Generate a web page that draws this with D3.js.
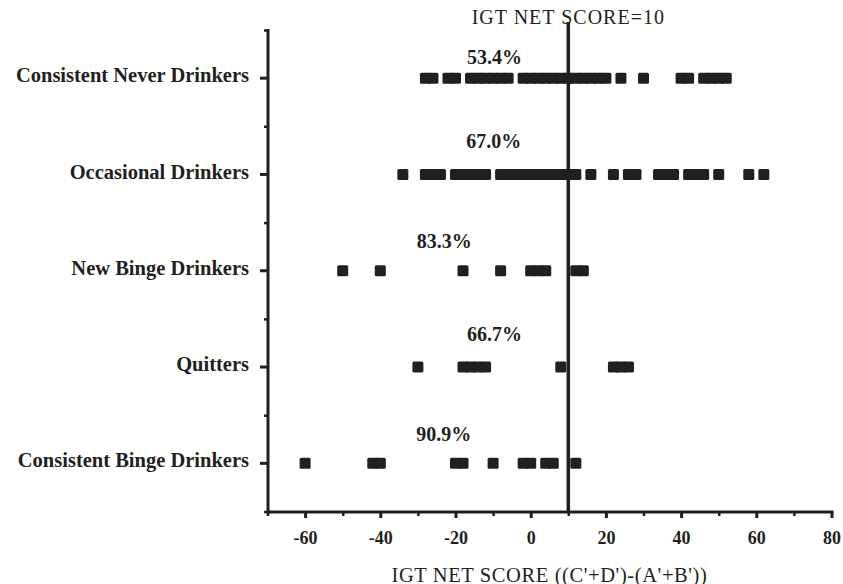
<!DOCTYPE html>
<html>
<head>
<meta charset="utf-8">
<script src="https://cdn.jsdelivr.net/npm/d3@7"></script>
<style>
  body { margin: 0; background: #fff; }
  svg text { font-family: "Liberation Serif", "Times New Roman", serif; fill: #231f20; }
</style>
</head>
<body>
<div class="canvas"></div>
<script>
// groups, top to bottom
let groups = ['Consistent Never Drinkers', 'Occasional Drinkers', 'New Binge Drinkers', 'Quitters', 'Consistent Binge Drinkers'];

// individual IGT net scores
let neverScores = [-28, -26, -22, -20, -16, -14, -12, -10, -8, -6, -2, 0, 2, 4, 6, 8, 10, 12, 14, 16, 18, 20, 24, 30, 40, 42, 46, 48, 50, 52];
let occasionalScores = [-34, -28, -26, -24, -20, -18, -16, -14, -12, -8, -6, -4, -2, 0, 2, 4, 6, 8, 10, 12, 16, 22, 26, 28, 34, 36, 38, 42, 44, 46, 50, 58, 62];
let newBingeScores = [-50, -40, -18, -8, 0, 2, 4, 12, 14];
let quitterScores = [-30, -18, -16, -14, -12, 8, 22, 24, 26];
let consistentBingeScores = [-60, -42, -40, -20, -18, -10, -2, 0, 4, 6, 12];

let percentLabels = ['53.4%', '67.0%', '83.3%', '66.7%', '90.9%'];
let cutoff = 10;

let majorTicks = [-60, -40, -20, 0, 20, 40, 60, 80];
let minorTicks = [-70, -50, -30, -10, 10, 30, 50, 70];

// layout
let width = 843, height = 584;
let ink = '#231f20';
let markSize = 11;
let pctX = [-9.6, -9.8, -23, -9.6, -23.1];   // where each % label is centred (score units)
let pctDy = [-14, -26.5, -23, -26.5, -22];   // baseline offset from the row

let svg = d3.select('.canvas')
  .append('svg')
  .attr('width', width)
  .attr('height', height)
  .style('background', '#fff');

let xScale = d3.scaleLinear()
  .domain([-70, 80])
  .range([267.5, 831.5]);

let yScale = d3.scaleBand()
  .domain(groups)
  .range([30, 511.5])
  .padding(0);

let rowY = g => yScale(g) + yScale.bandwidth() / 2;

let allScores = [neverScores, occasionalScores, newBingeScores, quitterScores, consistentBingeScores];

// marks: one square per subject, overlapping squares form the bars
allScores.forEach((scores, i) => {
  svg.append('g')
    .attr('class', 'row')
    .selectAll('rect')
    .data(scores)
    .enter()
    .append('rect')
    .attr('x', d => xScale(d) - markSize / 2)
    .attr('y', rowY(groups[i]) - markSize / 2)
    .attr('width', markSize)
    .attr('height', markSize)
    .attr('rx', 1.5)
    .attr('fill', ink);
});

// percentage labels
svg.append('g')
  .selectAll('text')
  .data(percentLabels)
  .enter()
  .append('text')
  .attr('x', (d, i) => xScale(pctX[i]))
  .attr('y', (d, i) => rowY(groups[i]) + pctDy[i])
  .attr('text-anchor', 'middle')
  .style('font-size', '20px')
  .style('font-weight', 'bold')
  .text(d => d);

// cutoff line at net score 10
svg.append('line')
  .attr('x1', xScale(cutoff))
  .attr('x2', xScale(cutoff))
  .attr('y1', 22)
  .attr('y2', yScale.range()[1])
  .attr('stroke', ink)
  .attr('stroke-width', 3.5);

svg.append('text')
  .attr('x', xScale(cutoff))
  .attr('y', 24)
  .attr('text-anchor', 'middle')
  .style('font-size', '20px')
  .style('letter-spacing', '1px')
  .text('IGT NET SCORE=' + cutoff);

// x axis
let xAxisY = yScale.range()[1];

svg.append('g')
  .attr('class', 'x-minor')
  .attr('transform', `translate(0, ${xAxisY})`)
  .call(d3.axisBottom(xScale).tickValues(minorTicks).tickSize(4.5).tickFormat(''))
  .call(g => g.select('.domain').remove())
  .call(g => g.selectAll('line').attr('stroke', ink).attr('stroke-width', 2.5));

let xAxis = svg.append('g')
  .attr('class', 'x-axis')
  .attr('transform', `translate(0, ${xAxisY})`)
  .call(d3.axisBottom(xScale).tickValues(majorTicks).tickFormat(d => String(d))
    .tickSize(6.5).tickSizeOuter(0).tickPadding(13));

xAxis.select('.domain')
  .attr('stroke', ink)
  .attr('stroke-width', 3)
  .attr('stroke-linecap', 'square');
xAxis.selectAll('line').attr('stroke', ink).attr('stroke-width', 3);
xAxis.selectAll('text')
  .style('font-family', '"Liberation Serif", serif')
  .style('font-size', '18px')
  .style('font-weight', 'bold')
  .attr('fill', ink);

svg.append('text')
  .attr('x', (xScale.range()[0] + xScale.range()[1]) / 2)
  .attr('y', 581.5)
  .attr('text-anchor', 'middle')
  .style('font-size', '20.5px')
  .style('letter-spacing', '0.6px')
  .text("IGT NET SCORE ((C'+D')-(A'+B'))");

// y axis
let boundaries = groups.map(g => yScale(g)).concat([yScale.range()[1]]);

svg.append('g')
  .attr('class', 'y-minor')
  .attr('transform', `translate(${xScale.range()[0]}, 0)`)
  .call(d3.axisLeft(d3.scaleIdentity().domain(yScale.range())).tickValues(boundaries).tickSize(3.5).tickFormat(''))
  .call(g => g.select('.domain').remove())
  .call(g => g.selectAll('line').attr('stroke', ink).attr('stroke-width', 2.5));

let yAxis = svg.append('g')
  .attr('class', 'y-axis')
  .attr('transform', `translate(${xScale.range()[0]}, 0)`)
  .call(d3.axisLeft(yScale).tickSize(7.5).tickSizeOuter(0).tickPadding(11));

yAxis.select('.domain')
  .attr('stroke', ink)
  .attr('stroke-width', 3)
  .attr('stroke-linecap', 'square');
yAxis.selectAll('line').attr('stroke', ink).attr('stroke-width', 3);
yAxis.selectAll('text')
  .style('font-family', '"Liberation Serif", serif')
  .style('font-size', '20.5px')
  .style('font-weight', 'bold')
  .attr('dy', '0.2em')
  .attr('fill', ink);
</script>
</body>
</html>
